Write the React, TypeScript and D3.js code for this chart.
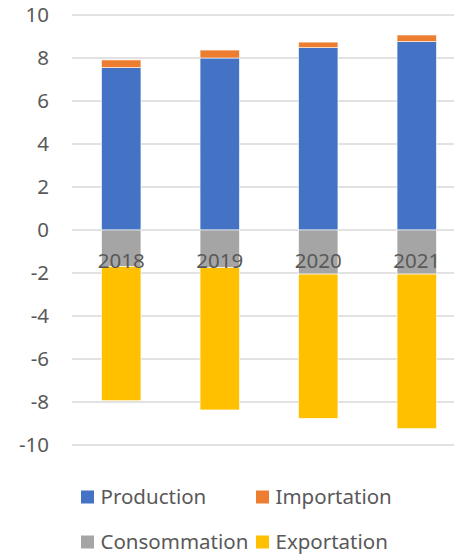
import React from "react";
import * as d3 from "d3";

const years = ["2018", "2019", "2020", "2021"];
const production = [7.55, 8.0, 8.48, 8.76];
const importation = [0.36, 0.37, 0.26, 0.31];
const consommation = [-1.7, -1.75, -2.05, -2.05];
const exportation = [-6.24, -6.62, -6.71, -7.19];
const yTicks = [10, 8, 6, 4, 2, 0, -2, -4, -6, -8, -10];

const colors = {
  Production: "#4472C4",
  Importation: "#ED7D31",
  Consommation: "#A5A5A5",
  Exportation: "#FFC000",
};

const W = 454;
const H = 554;
const FONT = "'Noto Sans', sans-serif";

export default function App() {
  const x = d3.scaleBand<string>().domain(years).range([72, 466]).paddingInner(0.6).paddingOuter(0.3);
  const y = d3.scaleLinear().domain([-10, 10]).range([445, 15]);
  const bw = x.bandwidth();

  const segs: { key: string; x: number; y0: number; y1: number; color: string }[] = [];
  years.forEach((yr, i) => {
    const p = production[i];
    const im = importation[i];
    const c = consommation[i];
    const e = exportation[i];
    segs.push({ key: "p" + yr, x: x(yr)!, y0: 0, y1: p, color: colors.Production });
    segs.push({ key: "i" + yr, x: x(yr)!, y0: p, y1: p + im, color: colors.Importation });
    segs.push({ key: "c" + yr, x: x(yr)!, y0: 0, y1: c, color: colors.Consommation });
    segs.push({ key: "e" + yr, x: x(yr)!, y0: c, y1: c + e, color: colors.Exportation });
  });

  const legend = [
    { name: "Production", x: 81, y: 497 },
    { name: "Importation", x: 256, y: 497 },
    { name: "Consommation", x: 81, y: 542 },
    { name: "Exportation", x: 256, y: 542 },
  ];

  return (
    <svg width={W} height={H} style={{ position: "absolute", left: 0, top: 0, background: "#fff" }}>
      <rect width={W} height={H} fill="#fff" />
      {yTicks.map((t) => (
        <g key={t}>
          <line x1={72} x2={466} y1={y(t)} y2={y(t)} stroke="#D9D9D9" strokeWidth={1.3} />
          <text x={49} y={y(t)} dy="0.36em" textAnchor="end" fontFamily={FONT} fontSize={20.5} fill="#595959">
            {t}
          </text>
        </g>
      ))}
      {segs.map((s) => (
        <rect
          key={s.key}
          x={s.x}
          y={y(Math.max(s.y0, s.y1))}
          width={bw}
          height={Math.abs(y(s.y0) - y(s.y1))}
          fill={s.color}
          stroke="#fff"
          strokeWidth={0.6}
        />
      ))}
      {years.map((yr) => (
        <text key={yr} x={x(yr)! + bw / 2} y={268} textAnchor="middle" fontFamily={FONT} fontSize={20.5} fill="#595959">
          {yr}
        </text>
      ))}
      {legend.map((l) => (
        <g key={l.name}>
          <rect x={l.x} y={l.y - 6.5} width={13} height={13} fill={(colors as any)[l.name]} />
          <text x={l.x + 19.5} y={l.y} dy="0.36em" fontFamily={FONT} fontSize={20.5} fill="#595959">
            {l.name}
          </text>
        </g>
      ))}
    </svg>
  );
}
